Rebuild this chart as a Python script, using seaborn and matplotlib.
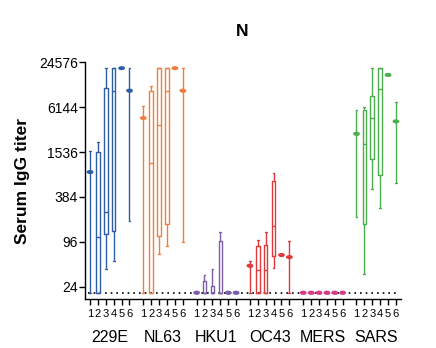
import numpy as np
import pandas as pd
import matplotlib
matplotlib.use("Agg")
import matplotlib.pyplot as plt
import seaborn as sns

# ---------------- data ----------------
viruses = ["229E", "NL63", "HKU1", "OC43", "MERS", "SARS"]
colors = ["#2e5fa6", "#f07f3f", "#7d5ca8", "#e0393b", "#d43c86", "#4aae4c"]
item_labels = ["1", "2", "3", "4", "5", "6"]
yticks = [24, 96, 384, 1536, 6144, 24576]
lod = 20

# five-number summaries per item: (min, q1, median, q3, max)
s229E = [(20, 830, 830, 830, 1600), (20, 20, 112, 1536, 2090), (41, 121, 242, 11140, 20480),
         (53, 135, 10240, 20480, 20480), (20480, 20480, 20480, 20480, 20480), (182, 10240, 10240, 10240, 20480)]
sNL63 = [(20, 4400, 4400, 4400, 6300), (20, 20, 1100, 10240, 11700), (66, 114, 3490, 20480, 20480),
         (84, 169, 10240, 20480, 20480), (20480, 20480, 20480, 20480, 20480), (96, 10240, 10240, 10240, 20480)]
sHKU1 = [(20, 20, 20, 20, 20), (20, 20, 20, 29, 35), (20, 20, 20, 24.5, 41),
         (20, 20, 20, 99, 130), (20, 20, 20, 20, 20), (20, 20, 20, 20, 20)]
sOC43 = [(20, 46, 46, 46, 53), (20, 20, 40, 84, 101), (20, 20, 40, 86, 129),
         (43, 62, 156, 626, 806), (64, 64, 64, 64, 64), (20, 60, 60, 60, 99)]
sMERS = [(20, 20, 20, 20, 20)] * 6
sSARS = [(208, 2700, 2700, 2700, 5700), (35.5, 169, 1990, 5700, 6144), (497, 1258, 4440, 8650, 20480),
         (274, 748, 10850, 20480, 20480), (16650, 16650, 16650, 16650, 16650), (598, 3960, 3960, 3960, 7170)]

k229E = ["dot", "box", "box", "box", "dot", "dot"]
kNL63 = ["dot", "box", "box", "box", "dot", "dot"]
kHKU1 = ["dot", "box", "box", "box", "dot", "dot"]
kOC43 = ["dot", "box", "box", "box", "dot", "dot"]
kMERS = ["dot"] * 6
kSARS = ["dot", "box", "box", "box", "dot", "dot"]

summaries = [s229E, sNL63, sHKU1, sOC43, sMERS, sSARS]
kinds = [k229E, kNL63, kHKU1, kOC43, kMERS, kSARS]

# ---------------- build tables ----------------
group_step = 6.75
rows, dots, positions = [], [], []
for g, (v, summ, kk) in enumerate(zip(viruses, summaries, kinds)):
    for i, (five, kind) in enumerate(zip(summ, kk)):
        pos = g * group_step + i
        positions.append(pos)
        for val in five:
            rows.append({"pos": pos, "value": val, "virus": v})
        if kind == "dot":
            dots.append({"pos": pos, "value": five[2], "virus": v})
box_df = pd.DataFrame(rows)
dot_df = pd.DataFrame(dots)

# ---------------- plot ----------------
sns.set_style("ticks")
plt.rcParams["font.family"] = ["Liberation Sans", "DejaVu Sans"]
plt.rcParams["text.color"] = "black"
plt.rcParams["xtick.color"] = "black"
plt.rcParams["ytick.color"] = "black"
plt.rcParams["xtick.labelcolor"] = "black"
plt.rcParams["ytick.labelcolor"] = "black"

fig = plt.figure(figsize=(4.36, 3.48), dpi=100)
ax = fig.add_axes([0.1956, 0.140, 0.7234, 0.682])

palette = dict(zip(viruses, colors))

ax.plot([-0.3, 39.2], [lod, lod], color="black", linestyle=(0, (1, 2.4)), lw=1.2, zorder=1)

sns.boxplot(data=box_df, x="pos", y="value", hue="virus", palette=palette,
            native_scale=True, log_scale=(False, 4), whis=(0, 100), fill=False,
            width=0.45, linewidth=1.0, dodge=False, legend=False, ax=ax, zorder=3)

theta = np.linspace(0, 2 * np.pi, 40)
ellipse = np.column_stack([np.cos(theta), 0.6 * np.sin(theta)])
sns.scatterplot(data=dot_df, x="pos", y="value", hue="virus", palette=palette,
                marker=ellipse, s=24, linewidth=0, legend=False, ax=ax, zorder=4)

ax.set_yscale("log", base=4)
ax.set_ylim(16.3, 24800)
ax.set_xlim(-0.6, 39.35)
ax.set_yticks(yticks)
ax.set_yticklabels([str(t) for t in yticks])
ax.minorticks_off()
ax.set_xticks(positions)
ax.set_xticklabels(item_labels * len(viruses))
ax.tick_params(axis="x", length=4, width=1, pad=3, labelsize=8, color="black", labelcolor="black")
ax.tick_params(axis="y", length=4, width=1, pad=1.5, labelsize=10, color="black", labelcolor="black")
ax.set_xlabel("")
ax.set_ylabel("")
for sp in ["top", "right"]:
    ax.spines[sp].set_visible(False)
for sp in ["left", "bottom"]:
    ax.spines[sp].set_linewidth(1.0)
    ax.spines[sp].set_color("black")

for g, v in enumerate(viruses):
    center = g * group_step + 2.5
    ax.annotate(v, xy=(center, 0), xycoords=ax.get_xaxis_transform(),
                xytext=(0, -31), textcoords="offset points",
                ha="center", va="baseline", fontsize=11.5, color="black")

fig.text(242 / 436, 1 - 31 / 348, "N", ha="center", va="center",
         fontsize=12.5, fontweight="bold", color="black")
fig.text(23 / 436, 1 - 180.5 / 348, "Serum IgG titer", rotation=90,
         ha="center", va="center", fontsize=12.5, fontweight="bold", color="black")

fig.savefig("out.png", dpi=100)
